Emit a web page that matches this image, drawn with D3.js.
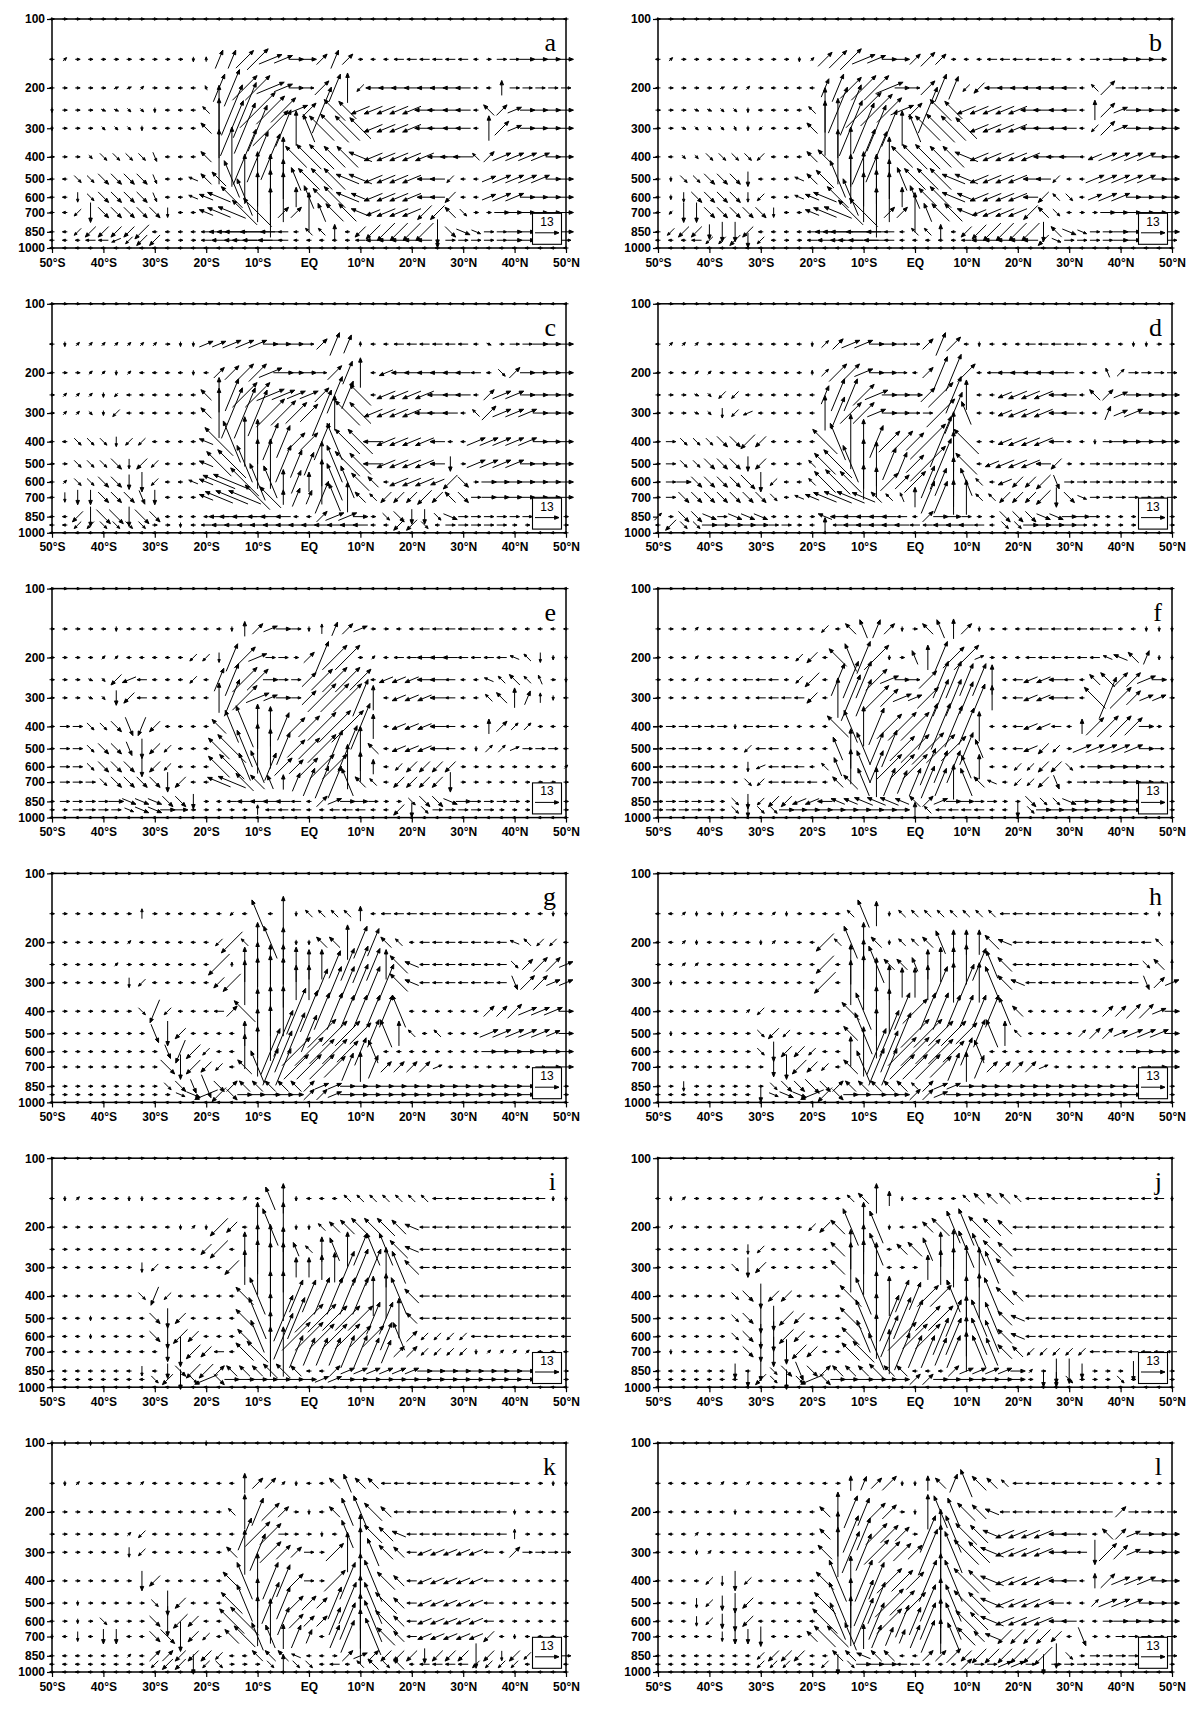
<!DOCTYPE html>
<html>
<head>
<meta charset="utf-8">
<script src="https://cdn.jsdelivr.net/npm/d3@7"></script>
<style>
    body { margin: 0; background: #fff; }
    svg { display: block; }
</style>
</head>
<body>
<svg id="chart" width="1200" height="1710"></svg>
<script>
// latitude grid (2.5 deg) and pressure levels of the vectors
const LATS = [-50, -47.5, -45, -42.5, -40, -37.5, -35, -32.5, -30, -27.5, -25, -22.5, -20, -17.5, -15, -12.5, -10, -7.5, -5, -2.5,
    0, 2.5, 5, 7.5, 10, 12.5, 15, 17.5, 20, 22.5, 25, 27.5, 30, 32.5, 35, 37.5, 40, 42.5, 45, 47.5, 50];
const LEVELS = [100, 150, 200, 250, 300, 400, 500, 600, 700, 850, 925, 1000];

const X_TICKS = [-50, -40, -30, -20, -10, 0, 10, 20, 30, 40, 50];
const X_TICK_LABELS = ["50°S", "40°S", "30°S", "20°S", "10°S", "EQ", "10°N", "20°N", "30°N", "40°N", "50°N"];
const Y_TICKS = [100, 200, 300, 400, 500, 600, 700, 850, 1000];
const PANEL_LABELS = ["a", "b", "c", "d", "e", "f", "g", "h", "i", "j", "k", "l"];

const REF_MAG = 13;

// each row = one level (top to bottom), 41 vectors from 50S to 50N
// token: 1st char = direction (hex, 16-point compass, 0 = up, 4 = right, 8 = down, c = left)
//        2nd char = magnitude in steps of MAG_STEP (base 36); "*n" repeats
const MAG_STEP = 2.7;

const panelA = [
    "41*12 c1*29",
    "c1 21 41*9 81 01 14 14 25 26 35 34 43 43 23 14 23 41 c1 c1 c2 c2 c2 c2 c2 c2 c1 41 42 42 43 43 43 43",
    "c1 41*4 31 31 21 41 c1 c1 c1 f1 16 18 27 27 36 34 43 42 24 16 06 a2 c3*8 c1 c1 03 42*5",
    "81 41 41 41 51 51 61 61 81 c1 c1 c1 e2 0a 1b 1c 2a 28 27 35 24 1a e6 e5 b4 b4 b4 b4 b4 c4 c4 c3 c3 c1 e3 23 33 43 43 43 43",
    "81 41 41 41 61 61 61 81 c1 c1 c1 c1 e3 0c 1c 1b 1a 2a 18 07 f6 e7 e8 e7 e6 b4 b4 b4 b4 c4 c4 c3 c3 c1 05 24 33 43 43 43 43",
    "41 41 41 61 62 62 62 62 72 c1 c1 c1 e3 0b 0c 1c 1b 1a 08 e6 e7 e7 e6 e6 d5 b4 b4 b4 b4 b4 c4 c4 c4 e2 23 34 34 34 34 43 43",
    "c1 c1 62 62 63 63 63 63 72 c1 c1 d2 e3 e4 f8 0a 0b 0a 08 f5 e6 e6 e6 d5 d5 b4 b4 b4 b4 c3 c3 a2 c1 c1 33 34 34 34 34 43 43",
    "c1 c1 82 62 63 63 63 63 72 c1 c1 d2 d3 d5 e6 f8 0a 0b 0a 04 f5 e5 e6 d5 d4 b4 b4 b4 b4 c3 c3 a3 c1 c1 33 34 34 43 43 43 43",
    "c1 c1 a2 84 63 63 63 63 63 82 c1 c1 d3 d5 d6 e7 e8 0a 23 23 08 f4 e5 e5 d4 b3 b4 b4 b4 a4 a4 e3 62 41 41 43 43 43 43 43 43",
    "c1 c1 a2 a3 a3 a3 a3 a4 c1 c1 c1 c1 c2 c4 c6 c8 c7 c4 c2 c1 e2 e2 03 c1 a3 a4 a5 a5 a5 a5 85 63 53 52 42 42 43 43 43 43 43",
    "c1 c1 c1 c2 c2 b2 a2 a3 a3 c1 41 41 c2 c3 c3 c5 c6 c5 c2 c1 c1 c1 c1 c1 c2 c3 c3 c3 c3 c3 83 42 42 42 42 42 43 43 43 43 42",
    "c1*41"
];

const panelB = [
    "41*12 c1*29",
    "c1 21 41*9 81 21 24 25 26 35 34 43 43 23 24 23 41 c1 c1 c2 c2 c2 c2 c2 c2 c1 41 42 42 43 43 43 43",
    "c1 41*4 31 31 21 41 c1 c1 c1 c1 14 16 26 27 27 36 43 42 24 16 15 a2 a3 c3*7 c1 e2 24 42*5",
    "41 41 41 51 51 61 61 81 c1 c1 c1 c1 e2 09 1a 1b 2a 29 27 35 24 1a e6 e5 b4 b4 b4 b4 b4 c4 c4 c3 c3 c1 04 24 33 43 43 43 43",
    "41 41 51 61 61 61 71 81 a1 c1 c1 c1 e3 0b 0c 1c 1b 1a 18 07 f6 e7 e8 e7 e6 b4 b4 b4 b4 c4 c4 c3 c3 c1 a2 24 33 43 43 43 43",
    "c1 c1 61 61 62 62 62 62 a2 c1 c1 c1 e3 e4 0b 0c 1c 1b 08 e6 e7 e7 e6 e6 d5 b4 b4 b4 b4 b4 c4 c4 c4 c1 b3 34 34 34 34 43 43",
    "c1 81 62 62 63 63 63 83 c1 c1 c1 d2 e3 e5 f8 0a 0b 0a 08 f5 e6 e6 e6 d5 d5 b4 b4 b4 b4 c3 c3 a2 c1 c1 34 34 34 34 34 43 43",
    "c1 81 82 63 63 63 63 82 a2 c1 c1 d2 d3 d5 e6 f8 0a 0b 0a 04 f5 e5 e6 d5 d4 b4 b4 b4 b4 c3 a3 e2 62 c1 33 34 34 43 43 43 43",
    "c1 a1 84 84 63 63 63 63 63 82 c1 c1 d3 d5 d6 e7 e8 0a 23 23 08 f4 e5 e5 d4 b3 b4 b4 b4 a4 e3 62 c1 41 41 43 43 43 43 43 43",
    "c1 a2 a3 a3 83 84 84 a3 c1 c1 c1 c1 c2 c4 c6 c8 c7 c4 c2 c1 e2 e2 03 c1 a3 a4 a5 a5 a5 a5 84 e3 53 52 42 42 43 43 43 43 43",
    "c1 c1 c1 c2 a2 a2 a3 83 a2 c1 41 41 c2 c3 c3 c5 c6 c5 c2 c1 c1 c1 c1 c1 c2 c3 c3 c3 c3 c3 a3 52 42 42 42 42 43 43 43 43 42",
    "c1*41"
];

const panelC = [
    "41*12 c1*29",
    "c1 81 21*7 41 81 81 33 33 34 34 34 43 43 43 42 23 15 14 01 c1 c1 c2 c2 c2 c2 c2 c2 c1 51 41 42 42 43 43 43",
    "c1 41 41 21 21 81 21 c1 c1 c1 c1 81 c1 23 24 25 25 35 44 43 43 42 24 15 06 c1 b3 c3 c3 c3 c3 c3 c3 c2 c1 62 23 43 43 43 43",
    "41 21 21 21 81 a1 c1 c1 c1 c1 c1 c1 e3 07 17 27 27 36 35 34 34 24 18 16 e6 c1 b4 b4 b4 b4 c4 c3 c3 c1 23 34 34 43 43 43 43",
    "41 21 21 61 81 a2 c1 c1 c1 c1 c1 c1 e3 0a 1b 1b 1a 28 27 26 25 1a 07 e7 e6 b4 b4 b4 b4 c4 c4 c3 c1 e2 24 34 34 34 43 43 43",
    "c1 c1 62 62 62 82 a2 a2 c1 c1 c1 c1 d3 e8 f9 0a 09 18 17 25 25 18 f8 e7 e7 c4 b4 b4 b4 b4 c3 c1 c1 34 34 34 34 34 43 43 43",
    "41 41 62 62 62 63 82 a3 a2 c1 c1 c1 d3 e7 e8 f8 0a 0a 18 16 15 09 f8 e7 e6 c4 b4 b4 b4 b4 c3 83 41 34 34 34 34 43 43 43 43",
    "c1 21 62 62 63 63 83 84 a2 c1 c1 d2 d3 d7 d8 e8 f8 f7 05 15 04 09 f8 f7 e5 e3 c1 b4 b4 b4 b3 a4 63 41 43 43 43 43 43 43 43",
    "c1 82 83 83 63 63 63 73 83 c1 c1 c1 d3 d6 d7 d7 e7 e6 03 14 13 17 f6 06 e3 e2 a3 a3 a3 a4 a3 e3 63 42 43 43 43 43 43 43 43",
    "c1 c1 a3 84 64 64 84 64 63 c1 c1 c1 c1 c4 c5 c5 c4 c4 c3 c1 c1 23 34 34 43 41 62 63 83 83 62 53 42 42 42 42 42 42 41 41 41",
    "c1 c1 a2 a2 62 62 62 62 41 41 81 c1 c2 c3*12 c1 c1 a3 a3 62 c1 42 42 42 42 42 41 41 41 41 41",
    "c1*41"
];

const panelD = [
    "41*12 c1*29",
    "c1 21 21 21 41 c1 c1 c1 c1 c1 c1 c1 81 22 23 34 34 43 43 42 42 23 15 24 c1 81 c1 c1 c1 c2 c2 c2 c2 c2 c1 c1 c1 81 81 41 41",
    "41 41 41 21 21 c1 c1 c1 c1 c1 c1 c1 01 22 25 25 34 43 43 42 c1 23 17 18 25 c1 c2 c3 c3 c3 c3 c3 c2 c1 c1 f2 22 42 42 42 42",
    "41 41 41 51 61 a2 a2 c1 c1 c1 c1 c1 c1 14 17 17 26 35 43 43 43 24 27 18 06 c1 c1 b3 b4 b4 b4 c3 c3 c1 e3 23 33 43 43 43 43",
    "41 41 41 51 61 82 a2 b2 c1 c1 c1 c1 c1 07 17 26 26 34 43 43 42 42 28 19 f5 c1 c1 b3 b4 b4 b4 c3 c3 c1 c1 13 33 34 43 43 43",
    "41 42 62 62 62 63 63 a4 a3 c1 c1 c1 c1 e7 f8 0b 09 17 26 26 25 2a 1b 0c e7 c1 c1 b3 b4 b4 b4 c3 c1 c1 81 42 43 43 43 43 43",
    "41 42 62 62 63 63 63 83 a3 c1 c1 c1 e2 e6 e8 f8 0a 09 17 15 25 2a 1b 0d e6 c1 b3 b4 b4 b4 c3 a3 41 41 42 42 42 42 42 42 42",
    "41 42 43 63 63 63 63 64 84 a2 c1 c1 e2 e6 e7 e6 07 06 25 24 26 17 16 0a f6 e2 c1 b3 a3 a3 a4 73 42 42 42 42 42 42 42 42 42",
    "41 42 63 63 63 63 63 63 63 62 c1 d2 d3 d5 d6 d6 d5 e3 e2 f2 04 17 17 07 07 e2 e2 a3 a3 a3 a4 84 63 52 42 42 42 42 42 42 42",
    "22 41 63 63 53 42 53 53 53 41 41 41 41 d3 c3 c3 c3 c3 c3 c2 c1 23 43 43 42 41 41 63 63 63 53 53 43 43 42 41 41 41 41 41 41",
    "c1 a3 62 62 43 43 43 43 43 42 42 41 c1 03 c2 c3 c3 c3 c3 c3 c2 c2 c3 c3 c3 c2 c1 62 62 43 43 43 43 42 41 41 41 41 41 41 41",
    "c1*41"
];

const panelE = [
    "41*12 c1*29",
    "41 41 41 41 41 81 c1 c1 c1 c1 c1 c1 c1 c1 81 03 23 33 43 42 81 02 13 23 33 41 41 c1 c1 c2 c2 c2 c2 c2 c2 c1 c1 c1 c1 c1 c1",
    "41 41 41 41 21 21 c1 c1 c1 c1 c1 a2 a2 82 16 26 34 42 42 41 23 17 27 27 41 21 c1 c2 c2 c3 c3 c3 c2 c2 c2 c2 d2 e2 82 81 81",
    "41 41 41 51 61 a3 b3 c2 c1 c1 c1 a2 c1 15 17 27 26 43 42 42 24 26 27 27 26 c1 b3 b3 b3 c3 c3 c2 c1 c1 d2 e2 e3 e2 f2 41 81",
    "41 41 41 51 61 83 a3 c2 c1 c1 c1 c1 c1 06 18 27 35 33 43 42 24 28 28 28 18 05 c1 b3 b3 b3 c3 c2 c1 c1 e2 e3 04 13 02 81 c1",
    "41 42 42 62 62 63 74 94 a3 c1 c1 c1 c1 e4 f7 f9 09 08 16 25 26 28 29 29 1a 05 c1 b3 b3 b3 c3 c2 c1 c1 03 23 22 22 41 c1 c1",
    "41 42 42 62 63 63 73 84 a3 a2 c1 c1 c1 e6 e8 f8 0a 08 17 25 26 28 18 1a 09 e3 c1 b3 b3 b3 c3 c2 c1 81 22 22 32 42 42 42 c1",
    "41 42 42 62 63 63 63 84 a3 a2 c1 c1 c1 e6 e7 f6 f7 16 25 24 25 27 27 09 06 03 c1 a2 a3 a3 a3 a3 41 41 41 41 41 41 41 41 21",
    "41 42 42 42 62 63 63 63 63 84 a3 c1 c1 d5 d6 e5 e4 f3 03 14 16 17 17 f6 e3 e2 c1 a3 a3 a3 a3 84 41 41 41 41 41 41 41 41 41",
    "41 42 42 42 42 43 53 53 53 63 63 83 41 c1 c2 c3 c3 c3 c3 c2 c1 23 33 43 43 42 41 41 62 63 63 53 43 42 42 42 42 41 41 41 41",
    "41 41 42 42 42 42 52 53 53 43 43 41 41 41 41 41 02 c2 c2 c2 c1 c1 c2 c2 c2 c1 c1 a3 83 62 42 42 42 42 42 41 41 41 41 41 41",
    "c1*41"
];

const panelF = [
    "41*12 c1*29",
    "41 41 41 21 c1 c1 c1 c1 c1 c1 c1 c1 c1 a2 c1 e3 f4 14 23 81 41 e3 f4 04 23 81 41 c1 c1 c2 c2 c2 c2 c2 c2 c2 c1 c1 81 81 81",
    "41 41 41 21 c1 c1 c1 c1 c1 c1 c1 a2 a3 c1 e5 f6 17 27 81 41 f3 05 17 26 27 32 41 c1 c1 c2 c2 c2 c2 c2 c2 d2 d3 e3 13 81 81",
    "41 41 41 21 c1 c1 c1 c2 c2 c2 c1 a2 a4 c1 17 18 18 26 34 43 42 25 18 18 17 17 06 c1 c2 b3 b3 c3 c2 c1 e3 e4 24 24 34 43 81",
    "41 41 41 41 41 41 c1 c1 c2 c2 c2 c2 a3 c1 08 1a 18 27 25 34 33 26 18 18 17 16 05 c1 c2 b3 b3 c3 c2 c1 e6 19 26 24 33 33 41",
    "42 42 42 42 42 42 81 c2 c2 c2 c1 c1 c1 c1 e6 f7 08 18 27 28 28 1a 1a 19 18 06 c1 c1 c2 b3 b3 c2 c1 03 25 26 26 25 43 41 c1",
    "42 42 42 42 41 41 41 a2 c2 c2 c1 c1 c1 c1 f5 08 f7 17 18 27 28 29 28 27 17 f4 c1 c1 c2 b3 a3 a2 41 34 34 34 34 34 43 42 41",
    "42 42 42 42 42 41 41 82 b2 c2 c2 c2 c1 e2 f4 07 f7 17 27 27 27 18 17 17 f5 05 c1 c1 a2 a2 a3 a3 62 41 43 43 43 43 42 42 41",
    "42 42 42 42 42 41 41 62 a2 c2 c2 c2 c2 c1 e3 e4 f6 06 16 15 16 17 16 07 f6 e3 d2 c1 a2 a2 a3 73 41 42 42 42 43 43 43 42 41",
    "42 42 42 42 42 41 62 83 a2 a3 a3 b3 b3 c3 d3 d3 d4 d4 d4 d3 e3 23 33 43 43 42 42 41 41 63 62 62 53 43 43 43 43 43 43 42 41",
    "42 42 42 42 42 41 62 83 62 62 43 43 43 43 43 43 43 43 43 43 03 e2 c2 c2 c2 c2 c1 c1 83 62 43 43 43 43 43 43 43 43 42 41 41",
    "c1*41"
];

const panelG = [
    "41*12 c1*29",
    "41*7 02 41 41 c1*4 a1 c1 f6 c1 07 81 e2*4 03 c1 c2*10 c1*3 81 81",
    "41*6 21 c1*6 a2 a6 e2 08 f7 06 81 81 e3 e3 07 17 16 e3 e2 c1 c2*7 d2 e2 a2 a2 c1",
    "41*5 21 41 c1*5 c1 a6 01 07 09 08 08 07 06 06 16 17 18 17 06 e5 d3 c2*7 62 23 24 24 33",
    "41*6 82 a2 c1*5 a3 a5 09 0a 0b 0a 07 07 16 17 17 18 17 18 e5 d3 c2*7 73 24 24 33 33",
    "41*7 62 95 a2 c1*3 c2 23 e6 09 0a 0a 1a 19 18 18 17 17 17 17 f7 c1 c1*5 23 23 24 34 34 34 43",
    "41*8 74 85 a3 c1*4 05 0a 0b 1a 19 18 28 27 27 26 16 f6 05 e2 c1 e2 c1*3 34 34 34 34 34 33 43",
    "41*9 73 95 a4 a2 c1 c1 07 0a 1a 19 28 28 27 27 26 16 f5 c1 c1 c1 c1*5 43*7",
    "41*9 64 85 a4 a3 a2 c1 e4 f7 18 18 27 27 27 26 16 06 15 23 23 23 23 32 41*7 42 43 43",
    "41*9 62 63 73 75 63 23 e3 e3 e3 e3 e3 23 33 33 43 43 43 43*12 42 42 41",
    "41*10 52 53 b5 a4 63 43 43 44 44 43 23 23 33 43*15 42 42 41",
    "c1*41"
];

const panelH = [
    "41*12 c1*29",
    "c1 c1 21 81 41 81 21 c1 c1 21 81 41 41 c1 c1 e2 f6 05 81 e2*8 c2*11 c1 81 81",
    "c1 c1 21 81 c1 c1 c1 c1 81 21 c1 c1 c1 a5 e2 f7 08 e3 81 e2 e2 e3 f5 05 05 05 e4 d3 c2*11 e2 81",
    "41 c1 21 21 c1*9 a5 c1 08 0a f8 e3 e3 f3 06 07 07 08 17 f6 e4 c2*10 62 e3 02",
    "41 81 41 41 c1*9 a6 c1 09 0b 0a 07 06 06 07 17 08 18 08 f7 e4 d3 c2*9 73 23 33",
    "41*7 21 a2 c1*6 e5 f8 0a 09 18 27 18 18 17 17 17 17 f6 e3 c1*6 23 23 24 24 33 43",
    "41 81 41*6 62 a3 a2 c1*4 e4 f9 0a 1a 19 28 28 27 27 26 16 f6 05 e2 c1 c1 41 41 22 23 23 33 34 34 34 43",
    "c1 41*7 62 84 a3 a3 a2 c1 c1 06 0a 1a 19 28 28 27 27 26 16 f5 c1 c1 c1 c1*4 41*4 43 43 43 43",
    "41*9 84 85 a4 a3 a2 c1 e4 f7 18 18 27 27 27 26 16 06 15 23 23 23 23 32 41*7 42 43 43",
    "41 41 82 41*6 62 63 63 64 63 23 e3 e3 e3 e3 e3 e2 23 33 33 43*14 42 42 41",
    "c1*8 83 52 53 53 b5 a4 63 43 43 44 44 43 23 23 33 43*15 42 42 41",
    "c1*41"
];

const panelI = [
    "41*12 c1*29",
    "c1 81 21 41*3 81 81 41*7 21 c1 f5 06 81 c1 c1 c1 e2*7 c2*9 81 81",
    "c1 41*7 c1 c1 81 21 81 a5 a3 c1 0a f8 0a 81 81 e2 e3 e4 e5 e5 e5 e4 d3 c2*12",
    "41*7 c1*5 a3 a5 c1 07 0a 0a 09 f3 e2 05 f5 07 17 f7 f7 e5 d3 c2*12",
    "41*7 82 a2 c1*4 c1 a4 07 0b 0a 0a 04 04 05 06 17 18 18 08 f7 e4 c2*12",
    "41*7 62 94 a2 c1*5 e5 f8 0a 0a 17 17 18 18 18 18 08 09 f8 e4 c2*12",
    "c1*3 81 c1*4 63 84 a3 c1*4 e5 f9 0a 1a 19 28 28 27 27 27 17 17 08 e3 c2*12",
    "c1*3 81 c1*4 63 85 a4 a3 c1 c1 c1 e4 f7 0a 1a 28 28 27 27 27 26 26 16 f6 23 a2*4 c2*8",
    "c1*3 41*3 c1*3 84 86 a4 a3 c2 c1 e5 e6 0a 0a 17 16 16 16 17 17 16 15 23 23 a2*4 81 21*4 c1 c1 c1",
    "c1*7 82 c1 83 63 a4 a4 23 e3 e3 e3 e4 e4 e3 c1 c1 23 33 33 33 33 33 33 43*9 42 42 41",
    "c1*8 62 a3 84 62 b5 63 43 44 44 43 43 43 43 33 33 43*15 42 42 41",
    "c1*41"
];

const panelJ = [
    "41*12 c1*29",
    "c1 81 21 41*5 21 c1*6 e2 e3 06 03 81 c1*4 e2 e3 e3 e3 e2 c2*11 81",
    "c1 21 41*5 c1*5 a2 a3 e4 f8 0a f7 81 c1 c1 e3 e5 f7 f8 e6 e5 e4 c2*12 c1",
    "41*7 82 a2 c1*5 e4 08 0a f7 c1 e3 e4 f5 07 08 f8 f7 e5 e4 c2*13",
    "41*6 62 84 a3 c1*5 e4 0a 0b 0a c1 41 41 05 07 08 09 08 f7 e5 c2*13",
    "41*6 62 63 85 a3 a3 c1*4 e6 f8 0a 08 17 16 26 26 f7 08 09 f8 e5 e3 c2*12",
    "41*6 62 63 86 85 a4 a3 c1*3 e6 f8 0a 1a 19 18 27 27 18 09 f8 f7 e4 d3 c2*12",
    "41*6 62 63 85 86 a4 a3 c1 c1 c1 e5 f7 09 19 28 27 27 18 18 08 f8 f7 e4 d3 c2*12",
    "41 81 41*5 63 84 86 85 a4 a3 c1 c1 e5 e6 f8 09 18 17 17 16 17 08 f7 f6 e4 e3 a2*5 c2*7",
    "c1*4 41 c1 83 c1 84 62 63 74 63 23 e3 e3 e3 e4 e3 e3 c1 c1 c1 23 33 33 33 33 43 21 41 85 85 83 41 41 41 84 41 41 41",
    "c1*7 83 a3 62 84 62 b5 63 43 43 44 44 43 43 23 23 43*7 41 83 83 62 41*3 62 41*4",
    "c1*41"
];

const panelK = [
    "81 81 c1 81 c1*8 81 c1*28",
    "41 81 21 41*4 21 c1*7 04 23 23 21 81 c1 c1 e3 f4 e3 e3 c2*11 c1 41 81 81",
    "41*6 c1*8 e2 07 16 25 23 41 81 c1 e3 f6 f7 e5 e3 c2*9 81 41*4",
    "41*6 21 a2 c1*7 17 27 26 42 41 41 81 c1 f6 08 e5 e4 d3 c2*8 02 41*4",
    "41*6 82 a2 c1*6 e3 09 18 26 24 23 42 41 25 08 0a f6 e4 e3 c2 b3*5 c2 c1 23 42*4",
    "41*7 84 a3 c1*5 e5 f8 0b 18 17 24 42 41 26 18 0b f9 e5 e3 c2 b3*5 c2 c1 41*5",
    "c1 41 81 41*5 62 85 a3 c1*3 e6 f8 0a 19 17 24 24 23 17 19 0b f9 e6 e3 c2 b3*5 c2 c1 41*5",
    "c1 41 81 41 62 41 41 41 63 86 a4 a3 c1 c1 e7 e8 0a 09 16 24 23 23 16 18 0b f9 e6 e3 c2 b3*5 c2 c1 41*5",
    "81 c1 82 c1 83 83 c1 c1 63 64 86 a3 a2 c1 e4 e6 f6 f5 05 15 13 c1 15 17 0b f8 e5 e3 c2 b3*5 a3 c1 81 c1*4",
    "c1*6 21 c1 23 23 a3 a3 a3 a2 c1 c1 e3 e3 e3 d2 c1 c1 41 23 33 23 a3 a3 a3 83 a3 a3 a3 85 a3 82 a3 a2 a2 42 42",
    "c1*8 a2 a3 a3 84 a2 62 41 41 41 62 04 62 62 c1 c2 c1 e2 e3 62 e3 c1 c2*4 a2*4 c1*4",
    "c1*41"
];

const panelL = [
    "41*12 c1*29",
    "c1*5 21 41 21 c1*6 41 03 13 23 24 81 81 03 e3 14 f6 e4 e3 e2 c2*8 c1 c1 41 41 41",
    "c1*3 41 41 c1 81 c1*6 e3 08 17 16 25 24 41 81 07 f7 f6 e5 e4 d3 c2*9 23 42*4",
    "c1*3 21 c1 41 c1*7 e3 09 18 17 26 25 24 41 18 0a f8 e6 e5 d4 b4 b4 b4 b4 c3 c3 c2 c1 e3 23 33 43 43 43",
    "c1*3 81 21 c1*8 e4 0a 19 18 27 26 25 24 1a 0b f9 e7 e6 d5 b4 b4 b4 b4 c3 c3 c2 85 25 24 33 43 43 43",
    "c1*4 a2 82 84 a2 c1*5 e5 f9 0a 19 18 27 26 25 19 0b f9 e7 e6 d5 b4 b4 b4 b4 c3 c3 c1 03 24 34 34 34 43 43",
    "41 c1 c1 82 a2 83 84 a3 c1*5 e6 f9 0a 1a 19 28 27 26 18 0a f8 e7 e6 d5 b4 b4 b4 b4 c3 c1 c1 22 34 34 34 43 43 43",
    "c1*3 82 a2 83 84 a3 c1*5 e7 f8 0a 1a 18 27 17 16 18 09 f8 e6 e5 d5 b4 b4 b4 b4 c3 c3 c1 c1 42 43 43 43 43 43",
    "c1*5 82 83 83 84 c1*3 e3 e6 e6 f6 05 15 14 13 15 17 07 f6 e5 e3 d3 a4 a4 a4 a4 a3 c1 74 41 41 42 42 42 42 42",
    "c1*8 a2 a3 a3 a3 c1 c1 e3 e3 d3 e3 e3 c1 c1 23 23 24 a3 a4 a4 a4 a4 a4 a5 85 62 41 42*7",
    "c1*8 a2 a2 a2 41 c1 a2 84 62 43 43 43 c2 c2 c1 c1 c1 23 42 42 33 33 42 84 42*9 41",
    "c1*41"
];

const PANELS = [panelA, panelB, panelC, panelD, panelE, panelF, panelG, panelH, panelI, panelJ, panelK, panelL];

// layout
const W = 514, H = 229;
const COL_X = [52, 658];
const ROW_Y0 = 19, ROW_STEP = 284.8;
const REF_LEN = 24;

const svg = d3.select("#chart");
svg.append("rect").attr("width", 1200).attr("height", 1710).attr("fill", "#fff");

const x = d3.scaleLinear().domain([-50, 50]).range([0, W]);
const y = d3.scaleLog().domain([100, 1000]).range([0, H]);
const lenScale = d3.scaleLinear().domain([0, REF_MAG]).range([0, REF_LEN]);

function expandRow(str) {
    const out = [];
    str.trim().split(/\s+/).forEach(tok => {
        const parts = tok.split("*");
        const n = parts[1] ? +parts[1] : 1;
        for (let k = 0; k < n; k++) out.push(parts[0]);
    });
    if (out.length !== LATS.length) console.warn("row length", out.length, str);
    return out;
}

function buildVectors(rows) {
    const vecs = [];
    rows.forEach((str, li) => {
        const codes = expandRow(str);
        LATS.forEach((lat, i) => {
            const c = codes[i] || "00";
            const dir = parseInt(c[0], 16);
            const mag = parseInt(c[1], 36) * MAG_STEP;
            const th = dir * Math.PI / 8;
            vecs.push({ lat: lat, lev: LEVELS[li], u: mag * Math.sin(th), w: mag * Math.cos(th) });
        });
    });
    return vecs;
}

// arrow centred on its grid point: shaft + small filled head
function arrowPath(x0, y0, u, w) {
    const dx = lenScale(u), dy = -lenScale(w);
    const L = Math.hypot(dx, dy);
    if (L < 0.5) return "";
    const ux = dx / L, uy = dy / L;
    const x1 = x0 - dx / 2, y1 = y0 - dy / 2;
    const x2 = x0 + dx / 2, y2 = y0 + dy / 2;
    const hs = Math.max(3, Math.min(4.4, L * 0.3));
    const hw = hs * 0.4;
    const bx = x2 - ux * hs, by = y2 - uy * hs;
    return `M${x1},${y1}L${bx},${by}` +
        `M${x2},${y2}L${bx - uy * hw},${by + ux * hw}L${bx + uy * hw},${by - ux * hw}Z`;
}

function styleAxis(g) {
    g.select(".domain").remove();
    g.selectAll(".tick line").attr("stroke", "#000").attr("stroke-width", 1.2);
    g.selectAll(".tick text")
        .attr("fill", "#000")
        .attr("font-family", "'Liberation Sans', Arial, sans-serif")
        .attr("font-weight", "bold")
        .attr("font-size", 12);
}

PANELS.forEach((rows, p) => {
    const col = p % 2, row = Math.floor(p / 2);
    const g = svg.append("g")
        .attr("transform", `translate(${COL_X[col]},${ROW_Y0 + row * ROW_STEP})`);

    const vecs = buildVectors(rows);
    g.append("g")
        .selectAll("path")
        .data(vecs)
        .enter().append("path")
        .attr("d", d => arrowPath(x(d.lat), y(d.lev), d.u, d.w))
        .attr("fill", "#000")
        .attr("stroke", "#000")
        .attr("stroke-width", 1)
        .attr("stroke-linejoin", "round");

    g.append("rect")
        .attr("width", W).attr("height", H)
        .attr("fill", "none").attr("stroke", "#000").attr("stroke-width", 1.5);

    g.append("g")
        .attr("transform", `translate(0,${H})`)
        .call(d3.axisBottom(x).tickValues(X_TICKS)
            .tickFormat((d, i) => X_TICK_LABELS[i]).tickSize(5).tickPadding(5))
        .call(styleAxis);

    g.append("g")
        .call(d3.axisLeft(y).tickValues(Y_TICKS)
            .tickFormat(d => d).tickSize(5).tickPadding(2))
        .call(styleAxis);

    // panel letter
    g.append("text")
        .attr("x", W - 10).attr("y", 32)
        .attr("text-anchor", "end")
        .attr("font-family", "'Liberation Serif', 'Times New Roman', serif")
        .attr("font-size", 26)
        .text(PANEL_LABELS[p]);

    // reference vector box
    const bw = 29, bh = 31;
    const bx = W - 4.5 - bw, by = H - 3.7 - bh;
    const ref = g.append("g").attr("transform", `translate(${bx},${by})`);
    ref.append("rect")
        .attr("width", bw).attr("height", bh)
        .attr("fill", "#fff").attr("stroke", "#000").attr("stroke-width", 1.1);
    ref.append("text")
        .attr("x", bw / 2).attr("y", 12.5)
        .attr("text-anchor", "middle")
        .attr("font-family", "'Liberation Sans', Arial, sans-serif")
        .attr("font-size", 12)
        .attr("fill", "#000")
        .text(REF_MAG);
    ref.append("path")
        .attr("d", arrowPath(bw / 2, 19.5, REF_MAG, 0))
        .attr("fill", "#000").attr("stroke", "#000").attr("stroke-width", 1);
});
</script>
</body>
</html>
